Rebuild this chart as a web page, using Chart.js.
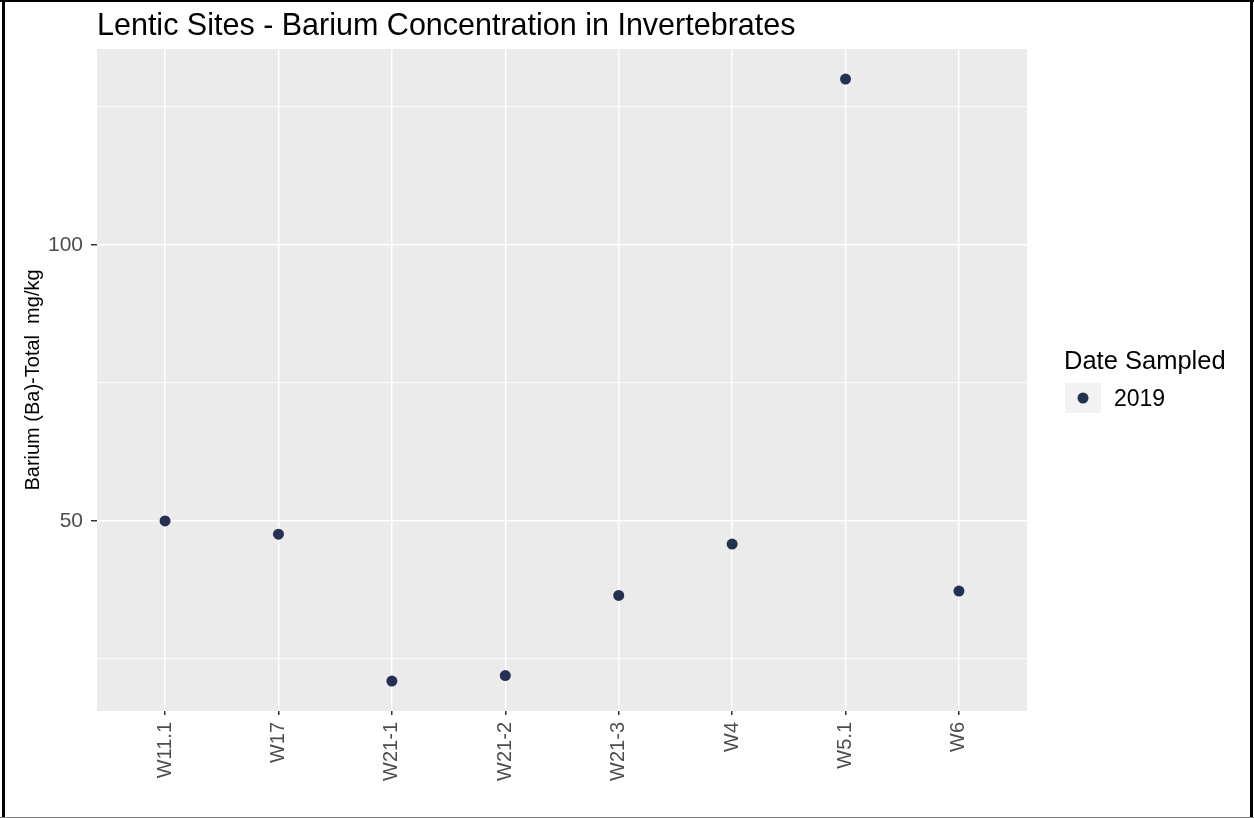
<!DOCTYPE html>
<html>
<head>
<meta charset="utf-8">
<title>Lentic Sites - Barium Concentration in Invertebrates</title>
<script src="https://cdn.jsdelivr.net/npm/chart.js@4"></script>
<style>
    html, body { margin: 0; padding: 0; background: #fff; }
    canvas { display: block; }
</style>
</head>
<body>
<canvas id="scatterChart" width="1254" height="818"></canvas>
<script>
// data
const chartTitle = 'Lentic Sites - Barium Concentration in Invertebrates';
const yAxisTitle = 'Barium (Ba)-Total  mg/kg';
const legendTitle = 'Date Sampled';
const seriesLabel = '2019';
const sites = ['W11.1', 'W17', 'W21-1', 'W21-2', 'W21-3', 'W4', 'W5.1', 'W6'];
const bariumValues = [50.0, 47.6, 21.0, 22.0, 36.5, 45.8, 130.0, 37.3];
const yGridValues = [25, 50, 75, 100, 125];
const yLabelValues = [50, 100];

const FONT = "'Liberation Sans', Arial, sans-serif";
const pointColor = '#253152';

const panelPlugin = {
    id: 'panel',
    beforeDraw(chart) {
        const { ctx, chartArea } = chart;
        ctx.save();
        ctx.fillStyle = '#EBEBEB';
        ctx.fillRect(chartArea.left, chartArea.top, chartArea.right - chartArea.left, chartArea.bottom - chartArea.top);
        ctx.restore();
    },
    afterDraw(chart) {
        const { ctx, chartArea } = chart;
        ctx.save();
        // frame round the picture
        ctx.fillStyle = '#000';
        ctx.fillRect(2, 0, 3, 818);
        ctx.fillRect(0, 0, 1254, 2);
        ctx.fillRect(1250, 0, 3, 818);
        ctx.fillStyle = '#808080';
        ctx.fillRect(0, 817, 1254, 1);

        // title
        ctx.fillStyle = '#000';
        ctx.font = '30.5px ' + FONT;
        ctx.textAlign = 'left';
        ctx.textBaseline = 'middle';
        ctx.fillText(chartTitle, chartArea.left, 27);

        // y axis title
        ctx.save();
        ctx.translate(33, (chartArea.top + chartArea.bottom) / 2);
        ctx.rotate(-Math.PI / 2);
        ctx.font = '20px ' + FONT;
        ctx.textAlign = 'center';
        ctx.fillText(yAxisTitle, 0, 0);
        ctx.restore();

        // legend
        ctx.font = '25.5px ' + FONT;
        ctx.textAlign = 'left';
        ctx.fillText(legendTitle, 1064, 362);
        ctx.fillStyle = '#F2F2F2';
        ctx.fillRect(1065, 383, 36, 30);
        ctx.fillStyle = pointColor;
        ctx.beginPath();
        ctx.arc(1083, 398, 5.5, 0, Math.PI * 2);
        ctx.fill();
        ctx.fillStyle = '#000';
        ctx.font = '23px ' + FONT;
        ctx.fillText(seriesLabel, 1114, 400);
        ctx.restore();
    }
};

const ctx = document.getElementById('scatterChart').getContext('2d');
new Chart(ctx, {
    type: 'scatter',
    data: {
        datasets: [{
            label: seriesLabel,
            data: bariumValues.map((v, i) => ({ x: i + 1, y: v })),
            backgroundColor: pointColor,
            borderColor: pointColor,
            pointRadius: 5.5,
            pointHoverRadius: 5.5,
            borderWidth: 0
        }]
    },
    options: {
        responsive: false,
        animation: false,
        layout: { padding: { left: 0, top: 49, right: 227, bottom: 0 } },
        plugins: {
            legend: { display: false },
            title: { display: false },
            tooltip: { enabled: false }
        },
        scales: {
            x: {
                type: 'linear',
                min: 0.4,
                max: 8.6,
                afterBuildTicks: (scale) => { scale.ticks = sites.map((s, i) => ({ value: i + 1 })); },
                afterFit: (scale) => { scale.height = 107; },
                border: { display: false },
                grid: { color: '#FFFFFF', lineWidth: 1.5, tickColor: '#333333', tickLength: 4, drawTicks: true },
                ticks: {
                    callback: (v) => sites[v - 1],
                    minRotation: 90,
                    maxRotation: 90,
                    autoSkip: false,
                    padding: 7,
                    color: '#4D4D4D',
                    font: { family: FONT, size: 20 }
                }
            },
            y: {
                type: 'linear',
                min: 15.58,
                max: 135.45,
                afterBuildTicks: (scale) => { scale.ticks = yGridValues.map(v => ({ value: v })); },
                afterFit: (scale) => { scale.width = 97; },
                border: { display: false },
                grid: {
                    color: '#FFFFFF',
                    lineWidth: (c) => yLabelValues.includes(c.tick && c.tick.value) ? 1.5 : 0.8,
                    tickColor: (c) => yLabelValues.includes(c.tick && c.tick.value) ? '#333333' : 'rgba(0,0,0,0)',
                    tickLength: 6,
                    drawTicks: true
                },
                ticks: {
                    callback: (v) => yLabelValues.includes(v) ? String(v) : '',
                    padding: 8,
                    color: '#4D4D4D',
                    font: { family: FONT, size: 21 }
                }
            }
        }
    },
    plugins: [panelPlugin]
});
</script>
</body>
</html>
